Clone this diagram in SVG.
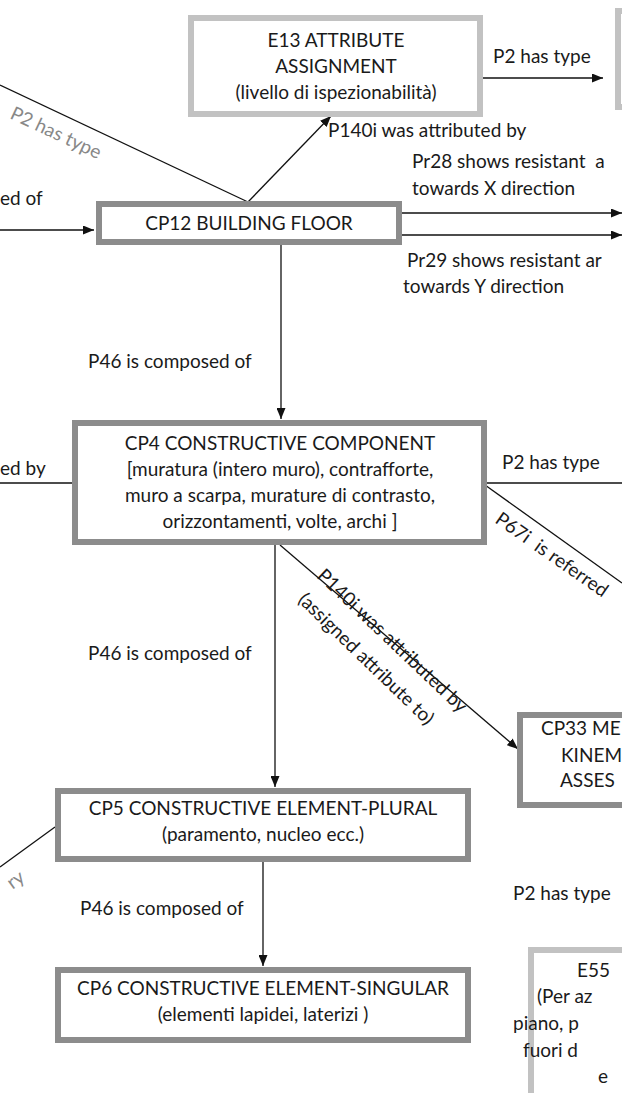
<svg xmlns="http://www.w3.org/2000/svg" width="622" height="1093" viewBox="0 0 622 1093">
<style>
text{font-family:Lato,"Liberation Sans",sans-serif;font-size:19px;fill:#1a1a1a}
.c{text-anchor:middle}
.g{fill:#888}
.bx{fill:#fff;stroke:#8c8c8c;stroke-width:6}
.lt{fill:#fff;stroke:#c2c2c2;stroke-width:6}
.ln{fill:none;stroke:#111;stroke-width:1.3}
</style>
<defs>
<marker id="arr" markerUnits="userSpaceOnUse" markerWidth="11" markerHeight="9" refX="11" refY="4.5" orient="auto">
<path d="M0,0 L11,4.5 L0,9 z" fill="#111"/>
</marker>
</defs>
<rect width="622" height="1093" fill="#fff"/>
<g id="connectors">
<path class="ln" d="M0,230 L94,230" marker-end="url(#arr)"/>
<path class="ln" d="M0,85 L248,202"/>
<path class="ln" d="M248,202 L331,116" marker-end="url(#arr)"/>
<path class="ln" d="M482,78 L603,78" marker-end="url(#arr)"/>
<path class="ln" d="M402,213 L622,213" marker-end="url(#arr)"/>
<path class="ln" d="M402,235 L622,235" marker-end="url(#arr)"/>
<path class="ln" d="M281,245 L281,419" marker-end="url(#arr)"/>
<path class="ln" d="M0,483 L72,483"/>
<path class="ln" d="M487,483 L622,483"/>
<path class="ln" d="M485,485 L622,583"/>
<path class="ln" d="M275,545 L275,787" marker-end="url(#arr)"/>
<path class="ln" d="M280,545 L518,749" marker-end="url(#arr)"/>
<path class="ln" d="M55,827 L0,867"/>
<path class="ln" d="M263,862 L263,966" marker-end="url(#arr)"/>
</g>
<g id="labels">
<text x="493" y="63">P2 has type</text>
<text class="g" font-size="20" transform="translate(9,118) rotate(25)">P2 has type</text>
<text x="328" y="137">P140i was attributed by</text>
<text x="412" y="168">Pr28 shows resistant&#160; a</text>
<text x="412" y="195">towards X direction</text>
<text x="407" y="267">Pr29 shows resistant ar</text>
<text x="403" y="293">towards Y direction</text>
<text x="0" y="205">ed of</text>
<text x="88" y="368">P46 is composed of</text>
<text x="0" y="475">ed by</text>
<text x="502" y="469">P2 has type</text>
<text transform="translate(494,522) rotate(35)">P67i&#160; is referred</text>
<text x="88" y="660">P46 is composed of</text>
<text transform="translate(316,577) rotate(43.5)">P140i was attributed by</text>
<text transform="translate(297,601) rotate(44)">(assigned attribute to)</text>
<text class="g" text-anchor="end" transform="translate(26,880) rotate(-36)">ry</text>
<text x="80" y="915">P46 is composed of</text>
<text x="513" y="900">P2 has type</text>
</g>
<g id="e13">
<rect class="lt" x="191" y="18" width="289" height="96"/>
<text class="c" x="336" y="47">E13 ATTRIBUTE</text>
<text class="c" x="336" y="73">ASSIGNMENT</text>
<text class="c" x="336" y="99">(livello di ispezionabilità)</text>
</g>
<g id="top-right">
<rect class="lt" x="618" y="11" width="100" height="96"/>
</g>
<g id="cp12">
<rect class="bx" x="99" y="204" width="300" height="38"/>
<text class="c" x="249" y="230">CP12 BUILDING FLOOR</text>
</g>
<g id="cp4">
<rect class="bx" x="75" y="423" width="409" height="119"/>
<text class="c" x="280" y="450">CP4 CONSTRUCTIVE COMPONENT</text>
<text class="c" x="280" y="476">[muratura (intero muro), contrafforte,</text>
<text class="c" x="280" y="502">muro a scarpa, murature di contrasto,</text>
<text class="c" x="280" y="528">orizzontamenti, volte, archi ]</text>
</g>
<g id="cp33">
<rect class="bx" x="520" y="715" width="200" height="90"/>
<text x="541" y="735">CP33 ME</text>
<text x="561" y="762">KINEM</text>
<text x="560" y="787">ASSES</text>
</g>
<g id="cp5">
<rect class="bx" x="58" y="791" width="410" height="68"/>
<text class="c" x="263" y="815">CP5 CONSTRUCTIVE ELEMENT-PLURAL</text>
<text class="c" x="263" y="841">(paramento, nucleo ecc.)</text>
</g>
<g id="cp6">
<rect class="bx" x="58" y="970" width="410" height="70"/>
<text class="c" x="263" y="995">CP6 CONSTRUCTIVE ELEMENT-SINGULAR</text>
<text class="c" x="263" y="1021">(elementi lapidei, laterizi )</text>
</g>
<g id="e55">
<rect class="lt" x="531" y="950" width="200" height="200"/>
<text x="577" y="977">E55</text>
<text x="537" y="1003">(Per az</text>
<text x="513" y="1030">piano, p</text>
<text x="523" y="1057">fuori d</text>
<text x="598" y="1083">e</text>
</g>
</svg>
